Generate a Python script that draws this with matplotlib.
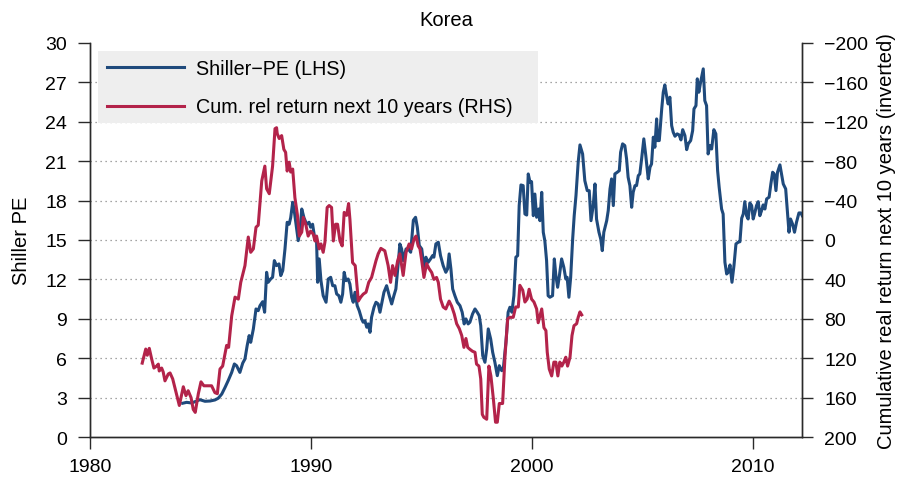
import matplotlib
matplotlib.use("Agg")
import matplotlib.pyplot as plt
from matplotlib.patches import Rectangle

plt.rcParams['font.family'] = ['Liberation Sans', 'DejaVu Sans']

title = "Korea"
left_label = "Shiller PE"
right_label = "Cumulative real return next 10 years (inverted)"
label_pe = "Shiller\u2212PE (LHS)"
label_ret = "Cum. rel return next 10 years (RHS)"

x_ticks = [1980, 1990, 2000, 2010]
pe_ticks = [0, 3, 6, 9, 12, 15, 18, 21, 24, 27, 30]
ret_ticks = [200, 160, 120, 80, 40, 0, -40, -80, -120, -160, -200]

# Shiller PE (LHS)
pe_years = [1984.18, 1984.36, 1984.59, 1984.74, 1984.96, 1985.19, 1985.42, 1985.64, 1985.79, 1985.95,
            1986.10, 1986.24, 1986.40, 1986.52, 1986.62, 1986.77, 1986.90, 1987.00, 1987.10, 1987.19,
            1987.26, 1987.38, 1987.50, 1987.60, 1987.68, 1987.80, 1987.89, 1987.98, 1988.05, 1988.16,
            1988.25, 1988.33, 1988.43, 1988.54, 1988.62, 1988.71, 1988.81, 1988.91, 1989.00, 1989.07,
            1989.16, 1989.22, 1989.31, 1989.41, 1989.49, 1989.57, 1989.67, 1989.79, 1989.90, 1989.97,
            1990.06, 1990.14, 1990.24, 1990.29, 1990.36, 1990.44, 1990.54, 1990.67, 1990.77, 1990.88,
            1990.97, 1991.07, 1991.15, 1991.25, 1991.34, 1991.42, 1991.49, 1991.57, 1991.67, 1991.75,
            1991.83, 1991.90, 1991.98, 1992.08, 1992.17, 1992.28, 1992.35, 1992.43, 1992.51, 1992.58,
            1992.66, 1992.73, 1992.84, 1992.93, 1993.03, 1993.11, 1993.20, 1993.29, 1993.41, 1993.53,
            1993.64, 1993.74, 1993.83, 1993.94, 1994.01, 1994.09, 1994.16, 1994.29, 1994.39, 1994.50,
            1994.62, 1994.72, 1994.80, 1994.89, 1995.00, 1995.10, 1995.19, 1995.29, 1995.40, 1995.49,
            1995.55, 1995.64, 1995.75, 1995.85, 1995.97, 1996.09, 1996.17, 1996.24, 1996.32, 1996.40,
            1996.50, 1996.61, 1996.73, 1996.83, 1996.92, 1997.00, 1997.10, 1997.18, 1997.30, 1997.41,
            1997.51, 1997.60, 1997.67, 1997.76, 1997.86, 1997.94, 1998.01, 1998.12, 1998.21, 1998.31,
            1998.42, 1998.51, 1998.62, 1998.69, 1998.81, 1998.91, 1998.99, 1999.08, 1999.17, 1999.26,
            1999.34, 1999.41, 1999.49, 1999.59, 1999.67, 1999.75, 1999.82, 1999.90, 1999.97, 2000.05,
            2000.12, 2000.20, 2000.29, 2000.35, 2000.43, 2000.50, 2000.57, 2000.65, 2000.72, 2000.80,
            2000.92, 2001.00, 2001.07, 2001.15, 2001.22, 2001.33, 2001.43, 2001.52, 2001.58, 2001.66,
            2001.74, 2001.83, 2001.90, 2001.98, 2002.08, 2002.16, 2002.28, 2002.38, 2002.49, 2002.58,
            2002.66, 2002.76, 2002.84, 2002.91, 2003.02, 2003.10, 2003.17, 2003.24, 2003.37, 2003.44,
            2003.52, 2003.59, 2003.67, 2003.74, 2003.85, 2003.94, 2004.00, 2004.09, 2004.19, 2004.27,
            2004.34, 2004.42, 2004.50, 2004.57, 2004.65, 2004.72, 2004.80, 2004.87, 2004.95, 2005.05,
            2005.14, 2005.25, 2005.33, 2005.40, 2005.48, 2005.55, 2005.63, 2005.67, 2005.75, 2005.86,
            2005.93, 2006.00, 2006.08, 2006.15, 2006.23, 2006.31, 2006.38, 2006.46, 2006.56, 2006.65,
            2006.73, 2006.81, 2006.91, 2006.99, 2007.06, 2007.17, 2007.26, 2007.32, 2007.41, 2007.47,
            2007.54, 2007.62, 2007.74, 2007.81, 2007.89, 2007.96, 2008.04, 2008.12, 2008.22, 2008.31,
            2008.39, 2008.46, 2008.57, 2008.64, 2008.72, 2008.80, 2008.87, 2008.95, 2009.04, 2009.13,
            2009.22, 2009.32, 2009.40, 2009.48, 2009.55, 2009.62, 2009.70, 2009.77, 2009.85, 2009.93,
            2010.00, 2010.08, 2010.15, 2010.23, 2010.30, 2010.38, 2010.45, 2010.53, 2010.61, 2010.72,
            2010.80, 2010.88, 2010.95, 2011.03, 2011.10, 2011.21, 2011.28, 2011.36, 2011.47, 2011.54,
            2011.62, 2011.69, 2011.78, 2011.87, 2011.96, 2012.07, 2012.16, 2012.22]
pe_values = [2.57, 2.64, 2.59, 2.69, 2.84, 2.72, 2.74, 2.82, 2.95, 3.27,
             3.78, 4.29, 4.92, 5.56, 5.43, 4.92, 5.63, 5.94, 6.96, 7.72,
             7.21, 8.23, 9.75, 9.62, 10.0, 10.3, 9.5, 12.54, 11.78, 12.03,
             12.16, 13.43, 13.05, 13.18, 12.29, 12.67, 14.3, 16.35, 16.2, 16.7,
             17.87, 17.36, 16.2, 14.95, 15.7, 17.36, 16.7, 16.2, 16.35, 15.97,
             16.2, 15.33, 14.95, 11.78, 13.56, 11.9, 10.76, 10.26, 12.03, 12.16,
             11.52, 11.52, 10.89, 10.76, 10.26, 10.89, 12.54, 11.9, 12.03, 11.65,
             10.64, 10.26, 11.02, 10.0, 9.62, 8.99, 8.74, 8.86, 8.36, 8.61,
             7.97, 9.12, 9.88, 10.26, 10.13, 9.5, 10.26, 11.02, 11.52, 10.76,
             10.13, 10.76, 11.27, 13.3, 14.7, 14.32, 13.43, 14.32, 14.32, 14.07,
             16.5, 16.73, 15.97, 14.57, 14.32, 12.92, 13.69, 13.3, 13.56, 13.81,
             13.69, 14.7, 14.83, 13.81, 13.05, 12.54, 12.8, 13.94, 12.8, 11.27,
             10.76, 10.26, 10.0, 9.5, 8.61, 8.99, 8.61, 8.74, 9.37, 9.75,
             9.5, 9.24, 8.48, 6.19, 5.69, 6.7, 8.23, 7.46, 6.45, 5.69,
             4.67, 5.43, 5.05, 5.18, 7.21, 9.5, 9.88, 9.5, 10.76, 13.69,
             13.81, 17.62, 19.19, 19.14, 16.98, 16.9, 20.03, 19.4, 19.44, 16.85,
             18.5, 16.73, 17.36, 16.47, 18.63, 15.59, 14.95, 13.43, 10.76, 10.64,
             10.76, 13.56, 12.29, 11.4, 12.16, 13.56, 12.92, 12.03, 12.16, 10.64,
             12.16, 15.08, 16.85, 18.38, 20.92, 22.24, 21.55, 19.52, 18.76, 18.76,
             16.47, 17.62, 19.27, 16.6, 15.59, 15.08, 14.19, 15.59, 16.47, 17.24,
             18.89, 19.65, 17.62, 20.03, 20.16, 20.28, 21.68, 22.32, 22.19, 21.17,
             19.78, 19.14, 17.49, 18.64, 19.14, 19.14, 19.9, 20.03, 21.17, 22.7,
             21.42, 19.65, 20.54, 20.79, 22.83, 22.06, 24.22, 22.57, 22.57, 24.98,
             26.25, 26.81, 25.99, 25.36, 25.87, 23.71, 23.21, 22.9, 23.08, 23.0,
             22.62, 23.4, 22.95, 21.88, 22.32, 22.57, 23.33, 24.98, 25.23, 27.27,
             26.25, 27.01, 28.03, 25.61, 25.23, 21.55, 22.19, 21.93, 23.4, 23.08,
             20.28, 19.02, 17.36, 16.98, 13.31, 12.41, 12.54, 13.1, 11.78, 13.05,
             14.7, 14.83, 14.87, 16.66, 16.98, 17.92, 16.85, 16.6, 17.82, 17.62,
             16.6, 17.11, 17.62, 17.92, 16.85, 17.24, 17.67, 17.36, 18.13, 18.26,
             19.27, 20.16, 20.03, 18.76, 20.16, 20.72, 20.03, 19.27, 18.89, 17.36,
             15.59, 16.6, 16.22, 15.59, 16.35, 17.06, 17.06, 16.85]

# Cumulative relative return next 10 years (RHS, inverted)
ret_years = [1982.35, 1982.51, 1982.58, 1982.67, 1982.78, 1982.88, 1983.00, 1983.08, 1983.12, 1983.23,
             1983.30, 1983.38, 1983.53, 1983.61, 1983.73, 1983.83, 1984.03, 1984.21, 1984.33, 1984.43,
             1984.56, 1984.66, 1984.75, 1984.89, 1985.01, 1985.14, 1985.34, 1985.49, 1985.64, 1985.75,
             1985.87, 1985.99, 1986.17, 1986.26, 1986.40, 1986.55, 1986.70, 1986.81, 1987.00, 1987.15,
             1987.26, 1987.38, 1987.50, 1987.60, 1987.76, 1987.90, 1987.98, 1988.10, 1988.25, 1988.36,
             1988.43, 1988.46, 1988.55, 1988.66, 1988.76, 1988.84, 1988.91, 1989.00, 1989.07, 1989.16,
             1989.26, 1989.37, 1989.46, 1989.57, 1989.64, 1989.76, 1989.86, 1989.97, 1990.09, 1990.17,
             1990.24, 1990.36, 1990.44, 1990.54, 1990.62, 1990.72, 1990.81, 1990.92, 1991.00, 1991.10,
             1991.19, 1991.30, 1991.40, 1991.49, 1991.60, 1991.69, 1991.75, 1991.87, 1991.99, 1992.13,
             1992.24, 1992.35, 1992.48, 1992.60, 1992.73, 1992.93, 1993.03, 1993.15, 1993.33, 1993.48,
             1993.59, 1993.68, 1993.79, 1993.91, 1994.01, 1994.16, 1994.29, 1994.43, 1994.54, 1994.65,
             1994.74, 1994.84, 1994.92, 1995.00, 1995.10, 1995.22, 1995.33, 1995.45, 1995.55, 1995.67,
             1995.75, 1995.85, 1995.97, 1996.09, 1996.24, 1996.35, 1996.47, 1996.58, 1996.70, 1996.81,
             1996.91, 1997.00, 1997.08, 1997.18, 1997.30, 1997.41, 1997.48, 1997.59, 1997.67, 1997.74,
             1997.81, 1997.94, 1998.04, 1998.13, 1998.24, 1998.34, 1998.42, 1998.51, 1998.66, 1998.77,
             1998.89, 1998.99, 1999.14, 1999.25, 1999.37, 1999.44, 1999.57, 1999.67, 1999.77, 1999.86,
             1999.97, 2000.08, 2000.20, 2000.27, 2000.43, 2000.53, 2000.62, 2000.68, 2000.77, 2000.88,
             2000.98, 2001.07, 2001.16, 2001.25, 2001.34, 2001.43, 2001.52, 2001.60, 2001.71, 2001.80,
             2001.89, 2002.01, 2002.08, 2002.16, 2002.24]
ret_values = [125, 110.7, 117, 110, 121, 130, 128, 126, 133, 130,
              134, 143, 136, 135, 141, 150, 168, 149, 158, 153,
              160, 172, 175, 156, 144, 148, 148, 148, 155, 156,
              131, 128, 107, 109, 77, 58, 60, 43, 26, -3,
              12.5, 9, -13, -15, -60, -75, -52, -47, -75, -113,
              -114, -108, -103, -106, -92, -89, -70, -79, -69, -72,
              -43, -26, -4, -8, -23, -15, -4, -9, -6, 1,
              -4, 9, 4, 12.5, 2, -33, -35, -33, 1, -16,
              -16, 1, 6, -28, -25, -37, -21, 23, 26, 62,
              58, 55, 53, 43, 38, 21, 14, 8.5, 11, 26,
              43, 26, 36, 21, 14, 36, 12.5, 4, 9, -1,
              -4, 6, 9, 21, 38, 24, 29, 33, 40, 38,
              43, 60, 68, 70, 62, 67, 75, 85, 90, 97,
              109, 100, 109, 111, 113, 114, 126, 128, 141, 177,
              180, 182, 128, 138, 161, 185, 185, 166, 166, 117,
              80, 78.5, 78.5, 68, 68, 46, 51, 63, 60, 50,
              60, 63, 70, 84, 70, 89, 92, 114, 131, 138,
              124, 124, 138, 124, 128, 124, 119, 128, 119, 97,
              87, 85, 78.5, 73, 76]

blue = '#1f4a7c'
red = '#b3234a'
axis_col = '#2a2a2a'

fig = plt.figure(figsize=(9.01, 4.85), dpi=100)
ax = fig.add_axes([0.1002, 0.0969, 0.7902, 0.8124])
ax2 = ax.twinx()

ax.set_xlim(1980, 2012.22)
ax.set_ylim(0, 30)
ax2.set_ylim(200, -200)

ax.set_xticks(x_ticks)
ax.set_yticks(pe_ticks)
ax2.set_yticks(ret_ticks)

for v in pe_ticks[1:-1]:
    ax.axhline(v, color='#888888', linestyle=(0, (1, 3)), linewidth=0.9, zorder=0)

l1, = ax.plot(pe_years, pe_values, color=blue, linewidth=2.2, label=label_pe, zorder=3)
l2, = ax2.plot(ret_years, ret_values, color=red, linewidth=2.2, label=label_ret, zorder=3)

for a in (ax, ax2):
    a.spines['top'].set_visible(False)
    for s in a.spines.values():
        s.set_color(axis_col)
        s.set_linewidth(1.0)
ax.tick_params(axis='y', direction='out', length=8.8, width=1.0, pad=8, labelsize=14, colors='black')
ax.tick_params(axis='x', direction='out', length=8.4, width=1.0, pad=7, labelsize=14, colors='black')
ax2.tick_params(axis='y', direction='out', length=8.0, width=1.0, pad=8, labelsize=14, colors='black')
for a in (ax, ax2):
    a.tick_params(color=axis_col)

ax.set_ylabel(left_label, fontsize=14.5, labelpad=10)
ax2.set_ylabel(right_label, fontsize=14.5, labelpad=6)
ax.set_title(title, fontsize=14.5, pad=13)

# legend background
bg = Rectangle((0.0112, 0.797), 0.617, 0.1835, transform=ax.transAxes,
               facecolor='#eeeeee', edgecolor='none', zorder=4)
ax2.add_patch(bg)
leg = ax2.legend(handles=[l1, l2], loc='upper left', bbox_to_anchor=(0.0124, 0.980),
                 frameon=False, fontsize=14.2, handlelength=3.9, handletextpad=0.62,
                 labelspacing=1.0, borderaxespad=0)
leg.set_zorder(5)

fig.savefig('out.png', dpi=100)
